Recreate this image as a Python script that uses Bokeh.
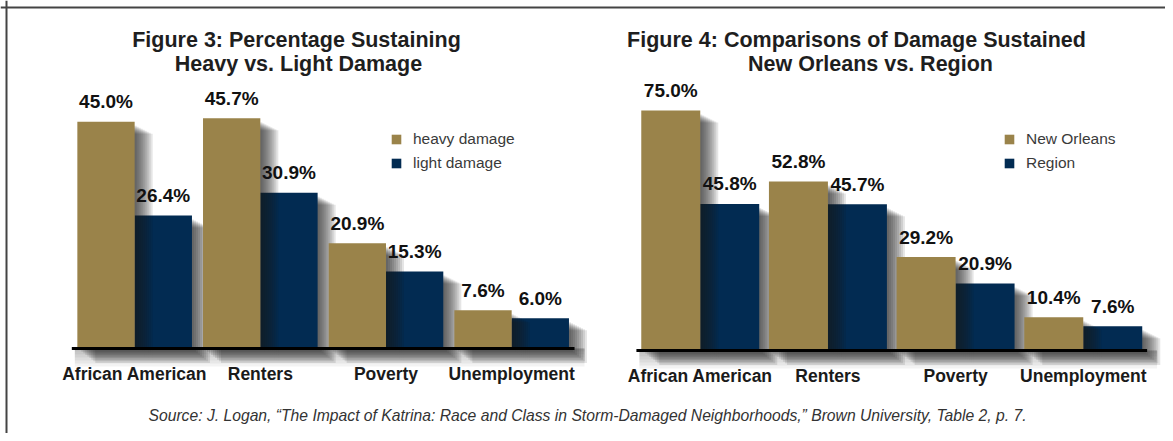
import numpy as np
from bokeh.plotting import figure
from bokeh.models import ColumnDataSource, Range1d, Label, Legend, LegendItem, Span
from bokeh.core.properties import value
from bokeh.embed import file_html
from bokeh.resources import INLINE

# ---------------- data ----------------
categories = ["African American", "Renters", "Poverty", "Unemployment"]

fig3_title = ["Figure 3: Percentage Sustaining", "Heavy vs. Light Damage"]
fig3_series = ["heavy damage", "light damage"]
fig3_heavy = [45.0, 45.7, 20.9, 7.6]
fig3_light = [26.4, 30.9, 15.3, 6.0]

fig4_title = ["Figure 4: Comparisons of Damage Sustained", "New Orleans vs. Region"]
fig4_series = ["New Orleans", "Region"]
fig4_new_orleans = [75.0, 52.8, 29.2, 10.4]
fig4_region = [45.8, 45.7, 20.9, 7.6]

source_note = ("Source: J. Logan, \u201cThe Impact of Katrina: Race and Class in Storm-Damaged "
               "Neighborhoods,\u201d Brown University, Table 2, p. 7.")

# ---------------- layout / style ----------------
W, H = 1165, 433
FONT = "Liberation Sans"
GOLD = "#9a834a"
NAVY = "#022b52"

LEFT = dict(c0=134.15, pitch=125.67, base=348.0, scale=5.04, bw=0.456,
            t1=(296, 39.5), t2=(298, 63.5), leg=(390, 135))
RIGHT = dict(c0=699.75, pitch=127.67, base=350.0, scale=3.2, bw=0.462,
             t1=(856, 39.5), t2=(870, 63.0), leg=(1003, 135))


def xr(c):
    return Range1d((0 - c["c0"]) / c["pitch"], (W - c["c0"]) / c["pitch"])


def yr(c):
    return Range1d((c["base"] - H) / c["scale"], c["base"] / c["scale"])


p = figure(width=W, height=H, x_range=xr(LEFT), y_range=yr(LEFT),
           output_backend="svg", toolbar_location=None,
           x_axis_location=None, y_axis_location=None,
           min_border=0, title=None)
p.grid.visible = False
p.extra_x_ranges = {"right": xr(RIGHT)}
p.extra_y_ranges = {"right": yr(RIGHT)}
p.outline_line_color = None
p.background_fill_color = "white"
p.border_fill_color = "white"

SHADOW_OFFS = [2, 4, 6, 8, 10, 12, 14, 16, 18]


def draw_chart(c, rn, a_vals, b_vals, series, title):
    kw = {} if rn is None else dict(x_range_name=rn, y_range_name=rn)
    n = len(categories)
    idx = np.arange(n, dtype=float)
    bw = c["bw"]
    px_x = 1.0 / c["pitch"]
    px_y = 1.0 / c["scale"]
    a = np.array(a_vals)
    b = np.array(b_vals)
    xa = idx - bw / 2
    xb = idx + bw / 2

    def shadow(xc, top):
        ls, rs, ts, bs = [], [], [], []
        for k in SHADOW_OFFS:
            ls += list(xc - bw / 2 + k * px_x)
            rs += list(xc + bw / 2 + k * px_x)
            ts += list(top - (3 + 0.5 * k) * px_y)
            bs += [-(0.8 * k) * px_y] * n
        p.quad(left=ls, right=rs, top=ts, bottom=bs, fill_color="#1e1e1e",
               fill_alpha=0.115, line_color=None, **kw)

    # baseline shadow
    for k in [3, 6, 9, 12, 15, 18]:
        p.quad(left=[-0.5 + 3 * px_x], right=[n - 0.5 + 10 * px_x], top=[0],
               bottom=[-k * px_y], fill_color="#202020", fill_alpha=0.055,
               line_color=None, **kw)

    shadow(xb, b)
    rb = p.vbar(x=xb, width=bw, top=b, bottom=0, fill_color=NAVY, line_color=None, **kw)
    shadow(xa, a)
    ra = p.vbar(x=xa, width=bw, top=a, bottom=0, fill_color=GOLD, line_color=None, **kw)

    # baseline
    p.segment(x0=[-0.5], x1=[n - 0.5], y0=[0], y1=[0], line_color="black",
              line_width=3, **kw)

    # value labels
    vals = ColumnDataSource(dict(x=list(xa) + list(xb), y=list(a) + list(b),
                                 t=[f"{v:.1f}%" for v in list(a) + list(b)]))
    p.text(x="x", y="y", text="t", source=vals, y_offset=-20,
           text_align="center", text_baseline="alphabetic",
           text_font=value(FONT), text_font_style="bold",
           text_font_size="19px", text_color="#111111", **kw)

    # category labels
    cats = ColumnDataSource(dict(x=idx, y=[0] * n, t=categories))
    p.text(x="x", y="y", text="t", source=cats, y_offset=25,
           text_align="center", text_baseline="alphabetic",
           text_font=value(FONT), text_font_style="bold",
           text_font_size="17.5px", text_color="#1a1a1a", **kw)

    # titles
    for (tx, ty), txt in zip([c["t1"], c["t2"]], title):
        p.add_layout(Label(x=tx, y=H - ty, x_units="screen", y_units="screen",
                           text=txt, text_align="center", text_baseline="alphabetic",
                           text_font=FONT, text_font_style="bold",
                           text_font_size="21.5px", text_color="#1e1e1e"))

    # legend
    lx, ly = c["leg"]
    leg = Legend(items=[LegendItem(label=series[0], renderers=[ra]),
                        LegendItem(label=series[1], renderers=[rb])],
                 location=(lx, H - (ly + 37)),
                 glyph_width=12, glyph_height=12, label_height=12,
                 label_standoff=11, spacing=6, padding=0, margin=0,
                 label_text_font=FONT, label_text_font_size="15.5px",
                 label_text_color="#3a3a3a", border_line_color=None,
                 background_fill_alpha=0)
    p.add_layout(leg, "center")


draw_chart(LEFT, None, fig3_heavy, fig3_light, fig3_series, fig3_title)
draw_chart(RIGHT, "right", fig4_new_orleans, fig4_region, fig4_series, fig4_title)

# source note
p.add_layout(Label(x=587, y=H - 414.8, x_units="screen", y_units="screen",
                   text=source_note, text_align="center", text_baseline="alphabetic",
                   text_font=FONT, text_font_style="italic", text_font_size="15.7px",
                   text_color="#333333"))

# outer frame (top and left edges)
xL = p.x_range
yL = p.y_range
p.add_layout(Span(location=yL.end - 7.0 / LEFT["scale"], dimension="width",
                  line_color="#444444", line_width=2))
p.add_layout(Span(location=xL.start + 6.0 / LEFT["pitch"], dimension="height",
                  line_color="#444444", line_width=2))

open("out.html", "w").write(file_html(p, INLINE))
